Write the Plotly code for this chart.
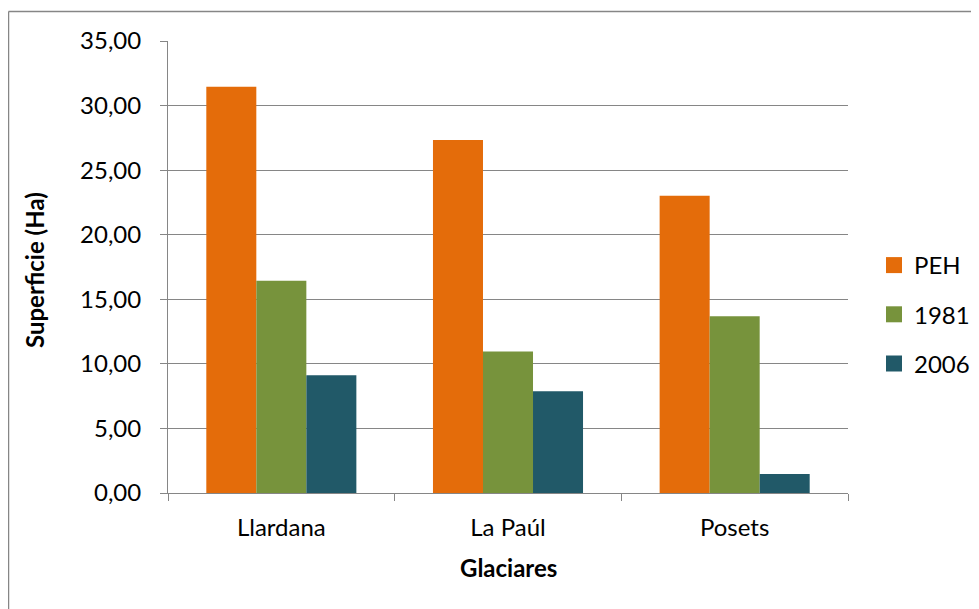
import plotly.graph_objects as go

categories = ["Llardana", "La Paúl", "Posets"]
series_names = ["PEH", "1981", "2006"]
peh = [31.46, 27.33, 23.01]
y1981 = [16.43, 10.96, 13.69]
y2006 = [9.12, 7.88, 1.47]
y_ticks = [0, 5, 10, 15, 20, 25, 30, 35]

colors = ["#E46C0A", "#77933C", "#215968"]

# page has an 8px body margin: figure coords = page coords - 8
W, H = 979, 609
ML, MT = 160, 33
PW, PH = 680, 452
MR = W - ML - PW
MB = H - MT - PH

FONT = "Lato"
FS = 24

fig = go.Figure()
for name, vals, col in zip(series_names, [peh, y1981, y2006], colors):
    fig.add_trace(go.Bar(
        x=categories, y=vals, name=name, marker_color=col,
        marker_line_width=0, showlegend=False,
    ))
# legend entries (square swatches)
for name, col in zip(series_names, colors):
    fig.add_trace(go.Scatter(
        x=[None], y=[None], mode="markers", name=name, legendgroup=name,
        marker=dict(symbol="square", size=16, color=col), hoverinfo="skip",
    ))


def px2paper_x(px):
    return (px - ML) / PW


def px2paper_y(py):
    return (MT + PH - py) / PH


fig.update_layout(
    width=W, height=H,
    margin=dict(l=ML, r=MR, t=MT, b=MB, pad=0, autoexpand=False),
    paper_bgcolor="white", plot_bgcolor="white",
    separators=",.",
    barmode="group", bargap=0.338, bargroupgap=0,
    font=dict(family=FONT, size=FS, color="black"),
    showlegend=True,
    legend=dict(
        x=px2paper_x(866), y=px2paper_y(235), xanchor="left", yanchor="top",
        font=dict(family=FONT, size=FS, color="black"),
        tracegroupgap=15, itemwidth=30, bgcolor="rgba(0,0,0,0)",
        traceorder="grouped",
    ),
    xaxis=dict(
        type="category", tickson="boundaries", ticks="outside", ticklen=7,
        tickcolor="#868686", showline=True, linecolor="#868686", linewidth=1,
        showgrid=False, tickfont=dict(family=FONT, size=FS),
        ticklabelstandoff=13,
    ),
    yaxis=dict(
        range=[0, 35], tickvals=y_ticks, tickformat=".2f", ticks="outside",
        ticklen=7, tickcolor="#868686", showline=True, linecolor="#868686",
        linewidth=1, showgrid=True, gridcolor="#868686", gridwidth=1,
        zeroline=False, tickfont=dict(family=FONT, size=FS),
        ticklabelstandoff=14,
    ),
    annotations=[
        dict(text="<b>Superficie (Ha)</b>", xref="paper", yref="paper",
             x=px2paper_x(26), y=px2paper_y(262), textangle=-90,
             xanchor="center", yanchor="middle",
             showarrow=False, font=dict(family=FONT, size=FS)),
        dict(text="<b>Glaciares</b>", xref="paper", yref="paper",
             x=px2paper_x(500), y=px2paper_y(559), xanchor="center",
             yanchor="middle", showarrow=False,
             font=dict(family=FONT, size=FS)),
    ],
    shapes=[
        dict(type="line", xref="paper", yref="paper",
             x0=px2paper_x(0.5), x1=px2paper_x(990), y0=px2paper_y(3.5), y1=px2paper_y(3.5),
             line=dict(color="#868686", width=1.5)),
        dict(type="line", xref="paper", yref="paper",
             x0=px2paper_x(0.5), x1=px2paper_x(0.5), y0=px2paper_y(3.5), y1=px2paper_y(620),
             line=dict(color="#868686", width=1.5)),
    ],
)

fig.write_html("out.html")
